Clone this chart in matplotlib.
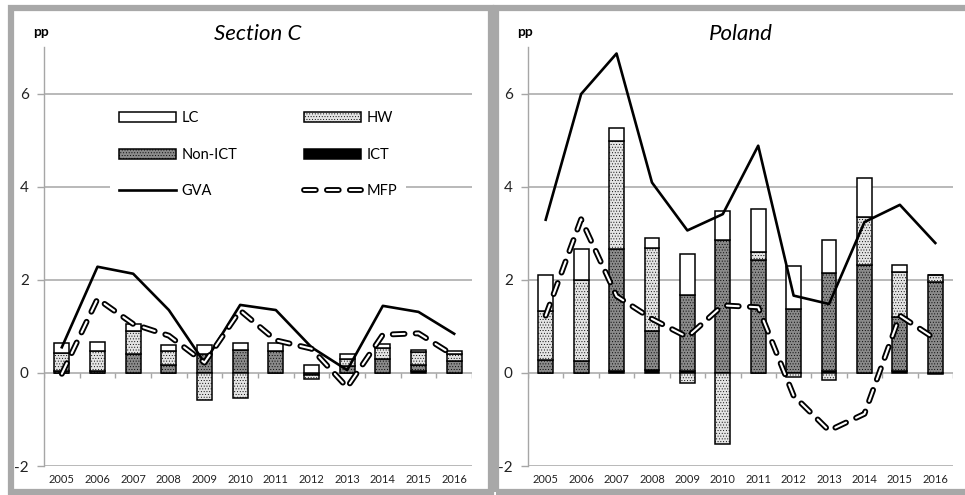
import numpy as np
import matplotlib
matplotlib.use("Agg")
import matplotlib.pyplot as plt
import matplotlib.patheffects as pe
from matplotlib.patches import Rectangle, Patch
from matplotlib.lines import Line2D

plt.rcParams["font.family"] = ["Lato", "DejaVu Sans"]
plt.rcParams["hatch.linewidth"] = 0.35
plt.rcParams["lines.scale_dashes"] = False
plt.rcParams["axes.unicode_minus"] = False

years = [2005, 2006, 2007, 2008, 2009, 2010, 2011, 2012, 2013, 2014, 2015, 2016]
year_labels = [str(y) for y in years]

# Section C contributions (pp)
sc_ict = [0, 0, 0, 0, 0, 0, 0, 0, 0, 0, 0.03, 0]
sc_nonict = [0.04, 0.03, 0.40, 0.17, 0.41, 0.49, 0.47, -0.05, 0.15, 0.29, 0.15, 0.26]
sc_hw = [0.38, 0.44, 0.49, 0.30, -0.58, -0.54, 0.0, -0.08, 0.14, 0.25, 0.26, 0.14]
sc_lc = [0.23, 0.20, 0.17, 0.12, 0.18, 0.16, 0.18, 0.17, 0.11, 0.09, 0.06, 0.06]
sc_gva = [0.55, 2.28, 2.13, 1.35, 0.22, 1.46, 1.35, 0.55, 0.06, 1.44, 1.31, 0.84]
sc_mfp = [-0.02, 1.59, 1.05, 0.80, 0.22, 1.34, 0.70, 0.52, -0.31, 0.82, 0.85, 0.37]

# Poland contributions (pp)
pl_ict = [0, 0, 0.05, 0.07, 0.03, 0, 0, 0, 0.03, 0, 0.03, -0.03]
pl_nonict = [0.28, 0.25, 2.62, 0.84, 1.65, 2.85, 2.43, 1.38, 2.11, 2.32, 1.16, 1.96]
pl_hw = [1.04, 1.75, 2.32, 1.78, -0.22, -1.53, 0.17, -0.08, -0.15, 1.02, 0.97, 0.15]
pl_lc = [0.79, 0.66, 0.28, 0.20, 0.88, 0.62, 0.92, 0.91, 0.72, 0.84, 0.15, 0.0]
pl_gva = [3.29, 5.99, 6.86, 4.09, 3.06, 3.41, 4.88, 1.66, 1.48, 3.24, 3.61, 2.79]
pl_mfp = [1.23, 3.30, 1.65, 1.16, 0.77, 1.45, 1.41, -0.49, -1.24, -0.88, 1.23, 0.73]

W, H = 965, 495
GRID = "#a6a6a6"
FRAME = "#a8a8a8"

STYLE = {
    "ICT": dict(facecolor="black"),
    "Non-ICT": dict(facecolor="#8a8a8a", hatch="......"),
    "HW": dict(facecolor="#e4e4e4", hatch="......"),
    "LC": dict(facecolor="white"),
}
MFP_KW = dict(color="white", lw=1.5, dashes=(8.5, 8), dash_capstyle="round",
              path_effects=[pe.Stroke(linewidth=4.2, foreground="black"), pe.Normal()])

fig = plt.figure(figsize=(W / 100, H / 100), dpi=100)


def px_axes(x0, y0, x1, y1):
    return fig.add_axes([x0 / W, 1 - y1 / H, (x1 - x0) / W, (y1 - y0) / H])


def draw_panel(ax, title, parts, gva, mfp):
    x = np.arange(len(years))
    pos = np.zeros(len(years))
    neg = np.zeros(len(years))
    for name, vals in parts:
        vals = np.asarray(vals, float)
        base = np.where(vals >= 0, pos, neg)
        ax.bar(x, vals, 0.42, bottom=base, edgecolor="black", linewidth=1.1,
               zorder=3, **STYLE[name])
        pos += np.clip(vals, 0, None)
        neg += np.clip(vals, None, 0)
    ax.plot(x, gva, color="black", lw=1.9, zorder=4)
    ax.plot(x, mfp, zorder=5, **MFP_KW)

    ax.set_xlim(-0.5, len(years) - 0.5)
    ax.set_ylim(-2, 7)
    ax.set_yticks([-2, 0, 2, 4, 6])
    ax.set_xticks(x)
    ax.set_xticklabels(year_labels, fontsize=8)
    ax.grid(axis="y", color=GRID, lw=1.1, zorder=1)
    ax.tick_params(axis="x", length=0, pad=6, colors="#222222")
    ax.tick_params(axis="y", length=5, width=1, color=GRID, pad=6,
                   labelsize=11, labelcolor="#222222")
    for s in ("top", "right", "bottom"):
        ax.spines[s].set_visible(False)
    ax.spines["left"].set_color(GRID)
    ax.spines["left"].set_linewidth(1)
    # small category ticks under the zero line
    ax.vlines(np.arange(len(years) + 1) - 0.5, -0.1, 0, color=GRID, lw=1, zorder=2)
    ax.set_title(title, style="italic", fontsize=16, pad=5)
    ax.annotate("pp", xy=(0, 1), xycoords="axes fraction", xytext=(-2, 11),
                textcoords="offset points", ha="center", va="center",
                fontsize=10, fontweight="bold")


ax1 = px_axes(44, 47, 472, 466)
ax2 = px_axes(528, 47, 953, 466)

draw_panel(ax1, "Section C",
           [("ICT", sc_ict), ("Non-ICT", sc_nonict), ("HW", sc_hw), ("LC", sc_lc)],
           sc_gva, sc_mfp)
draw_panel(ax2, "Poland",
           [("ICT", pl_ict), ("Non-ICT", pl_nonict), ("HW", pl_hw), ("LC", pl_lc)],
           pl_gva, pl_mfp)

handles = [
    Patch(edgecolor="black", lw=1.1, label="LC", **STYLE["LC"]),
    Patch(edgecolor="black", lw=1.1, label="Non-ICT", **STYLE["Non-ICT"]),
    Line2D([], [], color="black", lw=1.9, label="GVA"),
    Patch(edgecolor="black", lw=1.1, label="HW", **STYLE["HW"]),
    Patch(edgecolor="black", lw=1.1, label="ICT", **STYLE["ICT"]),
    Line2D([], [], label="MFP", **MFP_KW),
]
leg = ax1.legend(handles=handles, ncol=2, loc="upper left",
                 bbox_to_anchor=(0.137, 0.885), frameon=True, fancybox=False,
                 facecolor="white", edgecolor="none", framealpha=1,
                 fontsize=10.5, handlelength=3.9, handleheight=0.7,
                 handletextpad=0.4, labelspacing=1.55, columnspacing=4.6,
                 borderpad=0.6)
leg.set_zorder(6)

# grey frames around the two panels
for x0, x1 in ((11, 491), (496, 975)):
    fig.add_artist(Rectangle((x0 / W, 1 - 492 / H), (x1 - x0) / W, 484 / H,
                             transform=fig.transFigure, fill=False,
                             edgecolor=FRAME, lw=4.5))

fig.savefig("out.png", dpi=100)
